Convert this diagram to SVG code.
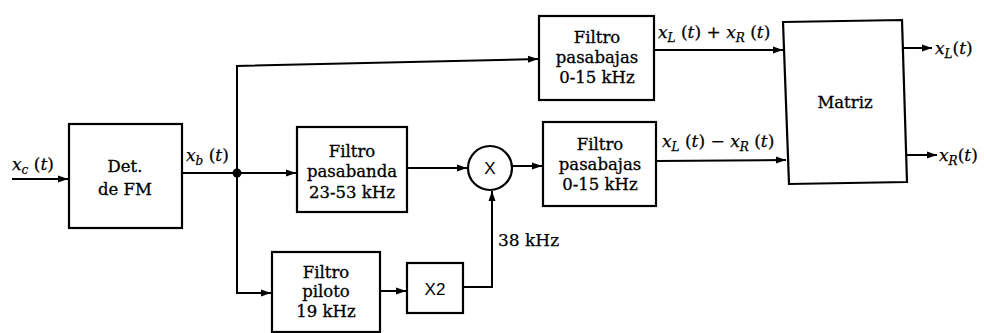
<svg xmlns="http://www.w3.org/2000/svg" width="984" height="333" viewBox="0 0 984 333">
<style>
.box{fill:#fff;stroke:#000;stroke-width:2.2}
.ln{fill:none;stroke:#000;stroke-width:2}
.t{font-family:"DejaVu Serif","Liberation Serif",serif;font-size:16.5px;fill:#000;stroke:#000;stroke-width:0.3;text-anchor:middle}
.s{font-family:"Liberation Sans",Arial,sans-serif;font-size:17px;fill:#000;text-anchor:middle}
.m{font-family:"DejaVu Serif","Liberation Serif",serif;font-size:17px;fill:#000;stroke:#000;stroke-width:0.25}
.i{font-style:italic}
.sb{font-style:italic;font-size:12px}
</style>
<defs>
<marker id="ah" viewBox="0 0 10 8" refX="10" refY="4" markerWidth="10" markerHeight="8" markerUnits="userSpaceOnUse" orient="auto">
<path d="M0,0.5 L10,4 L0,7.5 z" fill="#000"/>
</marker>
</defs>

<g id="connectors">
<path class="ln" d="M12,179 H68" marker-end="url(#ah)"/>
<path class="ln" d="M182,173 H296" marker-end="url(#ah)"/>
<path class="ln" d="M237,173 V66 L538,59" marker-end="url(#ah)"/>
<path class="ln" d="M237,173 V293 H271" marker-end="url(#ah)"/>
<path class="ln" d="M380,291 H406" marker-end="url(#ah)"/>
<path class="ln" d="M463,287 H492 V191" marker-end="url(#ah)"/>
<path class="ln" d="M407,168 H467" marker-end="url(#ah)"/>
<path class="ln" d="M512,166 H542" marker-end="url(#ah)"/>
<path class="ln" d="M656,161 L786,160" marker-end="url(#ah)"/>
<path class="ln" d="M654,50 H783" marker-end="url(#ah)"/>
<path class="ln" d="M903,48 H932" marker-end="url(#ah)"/>
<path class="ln" d="M907,155 H937" marker-end="url(#ah)"/>
<circle cx="237" cy="173" r="4.5" fill="#000"/>
</g>

<g id="labels">
<text class="m" x="12" y="170"><tspan class="i">x</tspan><tspan class="sb" dy="4">c</tspan><tspan dy="-4"> (</tspan><tspan class="i">t</tspan><tspan>)</tspan></text>
<text class="m" x="186" y="161"><tspan class="i">x</tspan><tspan class="sb" dy="4">b</tspan><tspan dy="-4"> (</tspan><tspan class="i">t</tspan><tspan>)</tspan></text>
<text class="m" x="658" y="38"><tspan class="i">x</tspan><tspan class="sb" dy="4">L</tspan><tspan dy="-4"> (</tspan><tspan class="i">t</tspan><tspan>) + </tspan><tspan class="i">x</tspan><tspan class="sb" dy="4">R</tspan><tspan dy="-4"> (</tspan><tspan class="i">t</tspan><tspan>)</tspan></text>
<text class="m" x="662" y="147"><tspan class="i">x</tspan><tspan class="sb" dy="4">L</tspan><tspan dy="-4"> (</tspan><tspan class="i">t</tspan><tspan>) − </tspan><tspan class="i">x</tspan><tspan class="sb" dy="4">R</tspan><tspan dy="-4"> (</tspan><tspan class="i">t</tspan><tspan>)</tspan></text>
<text class="m" x="935" y="54"><tspan class="i">x</tspan><tspan class="sb" dy="4">L</tspan><tspan dy="-4">(</tspan><tspan class="i">t</tspan><tspan>)</tspan></text>
<text class="m" x="939" y="161"><tspan class="i">x</tspan><tspan class="sb" dy="4">R</tspan><tspan dy="-4">(</tspan><tspan class="i">t</tspan><tspan>)</tspan></text>
<text class="m" x="498" y="246" font-size="15">38 kHz</text>
</g>

<g id="detFM">
<rect class="box" x="69" y="124" width="113" height="104"/>
<text class="t" x="125" y="172">Det.</text>
<text class="t" x="125" y="195">de FM</text>
</g>

<g id="pasabanda">
<rect class="box" x="297" y="127" width="110" height="85"/>
<text class="t" x="352" y="157">Filtro</text>
<text class="t" x="352" y="177">pasabanda</text>
<text class="t" x="352" y="198">23-53 kHz</text>
</g>

<g id="mult">
<circle class="box" cx="490" cy="168" r="22"/>
<text class="s" x="490" y="174">X</text>
</g>

<g id="pasabajasTop">
<rect class="box" x="539" y="16" width="115" height="84"/>
<text class="t" x="597" y="43">Filtro</text>
<text class="t" x="597" y="63">pasabajas</text>
<text class="t" x="597" y="83">0-15 kHz</text>
</g>

<g id="pasabajasBottom">
<rect class="box" x="543" y="122" width="113" height="84"/>
<text class="t" x="600" y="150">Filtro</text>
<text class="t" x="600" y="170">pasabajas</text>
<text class="t" x="600" y="190">0-15 kHz</text>
</g>

<g id="piloto">
<rect class="box" x="272" y="252" width="108" height="80"/>
<text class="t" x="326" y="278">Filtro</text>
<text class="t" x="326" y="297">piloto</text>
<text class="t" x="326" y="317">19 kHz</text>
</g>

<g id="x2">
<rect class="box" x="407" y="263" width="56" height="50"/>
<text class="s" x="435" y="295">X2</text>
</g>

<g id="matriz">
<polygon class="box" points="783,22 902,20 907,182 789,184"/>
<text class="t" x="845" y="108">Matriz</text>
</g>
</svg>
